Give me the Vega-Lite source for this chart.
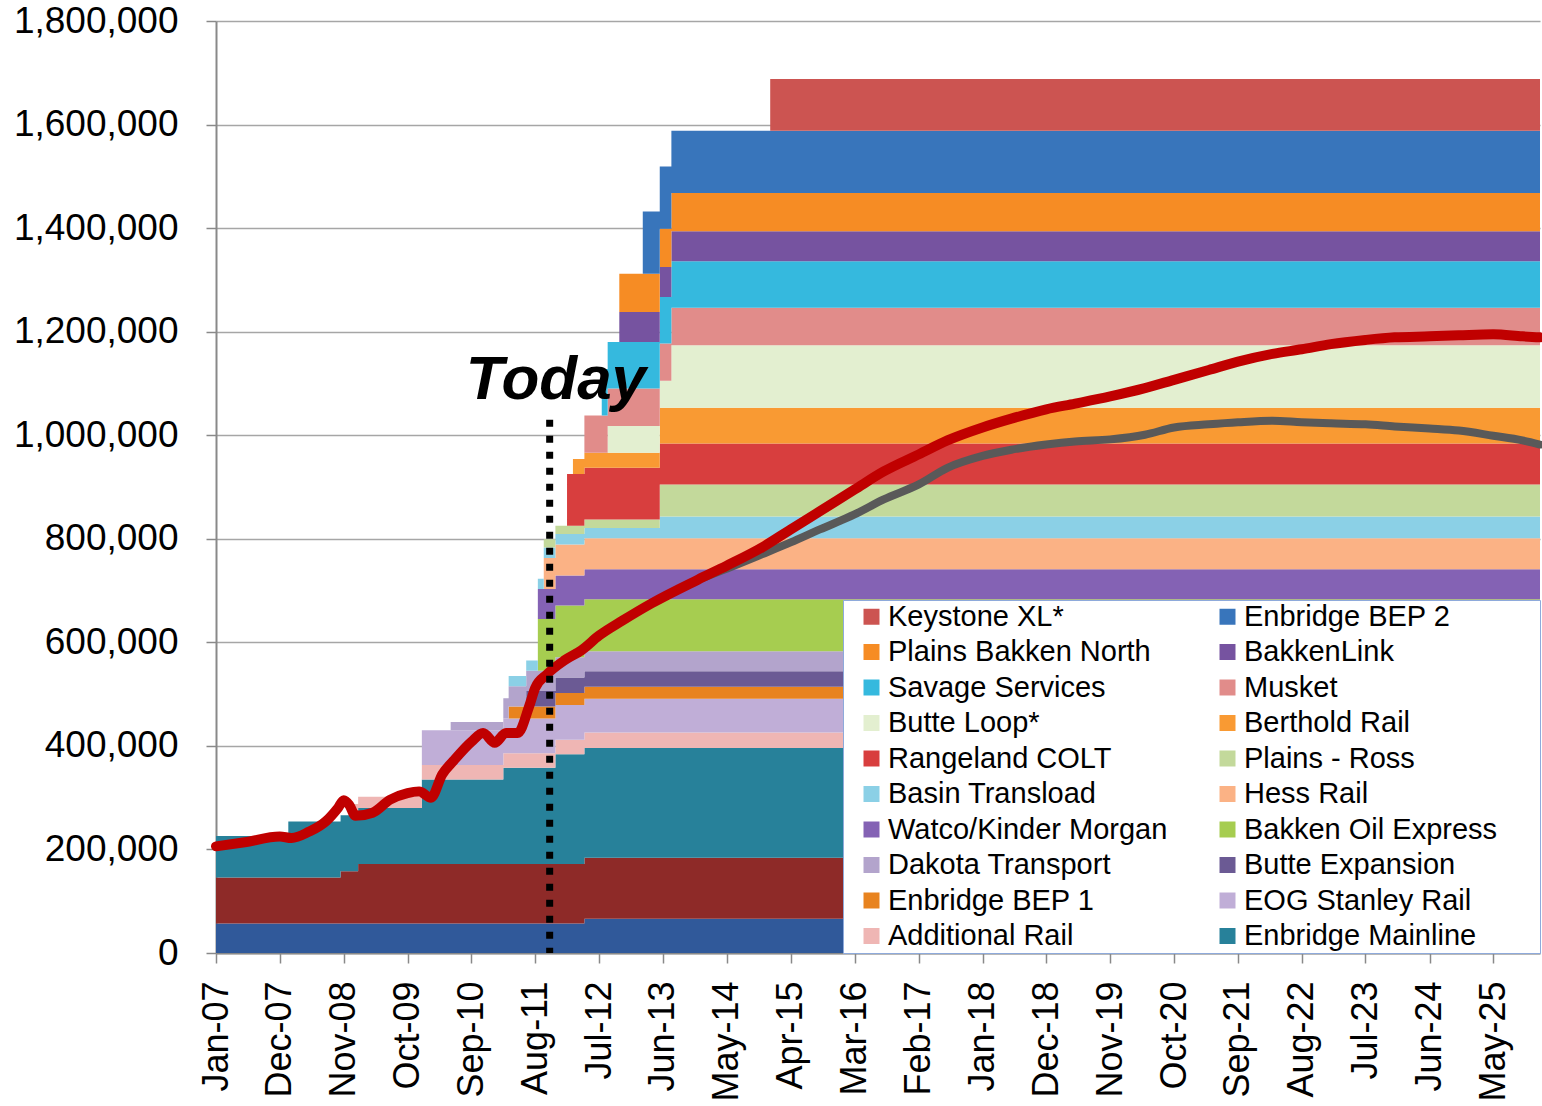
{
"$schema": "https://vega.github.io/schema/vega-lite/v6.json",
"width": 1324, "height": 932,
"autosize": {"type": "none"},
"padding": {"left": 216, "top": 21, "right": 2, "bottom": 153},
"background": "white",
"config": {"view": {"stroke": null}, "font": "Liberation Sans"},
"datasets": {
"series": [
{"s":"Local Refining","k":1},{"s":"Other Pipelines","k":2},{"s":"Enbridge Mainline","k":3},{"s":"Additional Rail","k":4},{"s":"EOG Stanley Rail","k":5},{"s":"Enbridge BEP 1","k":6},{"s":"Butte Expansion","k":7},{"s":"Dakota Transport","k":8},{"s":"Bakken Oil Express","k":9},{"s":"Watco/Kinder Morgan","k":10},{"s":"Hess Rail","k":11},{"s":"Basin Transload","k":12},{"s":"Plains - Ross","k":13},{"s":"Rangeland COLT","k":14},{"s":"Berthold Rail","k":15},{"s":"Butte Loop*","k":16},{"s":"Musket","k":17},{"s":"Savage Services","k":18},{"s":"BakkenLink","k":19},{"s":"Plains Bakken North","k":20},{"s":"Enbridge BEP 2","k":21},{"s":"Keystone XL*","k":22}
],
"capacity": [
{"d":"2007-01-01","s":"Local Refining","v":57000},{"d":"2008-01-15","s":"Local Refining","v":57000},{"d":"2008-10-15","s":"Local Refining","v":57000},{"d":"2008-12-15","s":"Local Refining","v":57000},{"d":"2009-01-15","s":"Local Refining","v":57000},{"d":"2009-12-15","s":"Local Refining","v":57000},{"d":"2010-05-15","s":"Local Refining","v":57000},{"d":"2011-02-15","s":"Local Refining","v":57000},{"d":"2011-03-15","s":"Local Refining","v":57000},{"d":"2011-06-15","s":"Local Refining","v":57000},{"d":"2011-08-15","s":"Local Refining","v":57000},{"d":"2011-09-15","s":"Local Refining","v":57000},{"d":"2011-11-15","s":"Local Refining","v":57000},{"d":"2012-01-15","s":"Local Refining","v":57000},{"d":"2012-02-15","s":"Local Refining","v":57000},{"d":"2012-04-15","s":"Local Refining","v":66000},{"d":"2012-07-15","s":"Local Refining","v":66000},{"d":"2012-08-15","s":"Local Refining","v":66000},{"d":"2012-10-15","s":"Local Refining","v":66000},{"d":"2013-02-15","s":"Local Refining","v":66000},{"d":"2013-05-15","s":"Local Refining","v":66000},{"d":"2013-07-15","s":"Local Refining","v":66000},{"d":"2014-12-15","s":"Local Refining","v":66000},{"d":"2026-01-01","s":"Local Refining","v":66000},
{"d":"2007-01-01","s":"Other Pipelines","v":89000},{"d":"2008-01-15","s":"Other Pipelines","v":89000},{"d":"2008-10-15","s":"Other Pipelines","v":101000},{"d":"2008-12-15","s":"Other Pipelines","v":101000},{"d":"2009-01-15","s":"Other Pipelines","v":115000},{"d":"2009-12-15","s":"Other Pipelines","v":115000},{"d":"2010-05-15","s":"Other Pipelines","v":115000},{"d":"2011-02-15","s":"Other Pipelines","v":115000},{"d":"2011-03-15","s":"Other Pipelines","v":115000},{"d":"2011-06-15","s":"Other Pipelines","v":115000},{"d":"2011-08-15","s":"Other Pipelines","v":115000},{"d":"2011-09-15","s":"Other Pipelines","v":115000},{"d":"2011-11-15","s":"Other Pipelines","v":115000},{"d":"2012-01-15","s":"Other Pipelines","v":115000},{"d":"2012-02-15","s":"Other Pipelines","v":115000},{"d":"2012-04-15","s":"Other Pipelines","v":118000},{"d":"2012-07-15","s":"Other Pipelines","v":118000},{"d":"2012-08-15","s":"Other Pipelines","v":118000},{"d":"2012-10-15","s":"Other Pipelines","v":118000},{"d":"2013-02-15","s":"Other Pipelines","v":118000},{"d":"2013-05-15","s":"Other Pipelines","v":118000},{"d":"2013-07-15","s":"Other Pipelines","v":118000},{"d":"2014-12-15","s":"Other Pipelines","v":118000},{"d":"2026-01-01","s":"Other Pipelines","v":118000},
{"d":"2007-01-01","s":"Enbridge Mainline","v":80000},{"d":"2008-01-15","s":"Enbridge Mainline","v":108000},{"d":"2008-10-15","s":"Enbridge Mainline","v":108000},{"d":"2008-12-15","s":"Enbridge Mainline","v":108000},{"d":"2009-01-15","s":"Enbridge Mainline","v":108000},{"d":"2009-12-15","s":"Enbridge Mainline","v":163000},{"d":"2010-05-15","s":"Enbridge Mainline","v":163000},{"d":"2011-02-15","s":"Enbridge Mainline","v":186000},{"d":"2011-03-15","s":"Enbridge Mainline","v":186000},{"d":"2011-06-15","s":"Enbridge Mainline","v":186000},{"d":"2011-08-15","s":"Enbridge Mainline","v":186000},{"d":"2011-09-15","s":"Enbridge Mainline","v":186000},{"d":"2011-11-15","s":"Enbridge Mainline","v":212000},{"d":"2012-01-15","s":"Enbridge Mainline","v":212000},{"d":"2012-02-15","s":"Enbridge Mainline","v":212000},{"d":"2012-04-15","s":"Enbridge Mainline","v":212000},{"d":"2012-07-15","s":"Enbridge Mainline","v":212000},{"d":"2012-08-15","s":"Enbridge Mainline","v":212000},{"d":"2012-10-15","s":"Enbridge Mainline","v":212000},{"d":"2013-02-15","s":"Enbridge Mainline","v":212000},{"d":"2013-05-15","s":"Enbridge Mainline","v":212000},{"d":"2013-07-15","s":"Enbridge Mainline","v":212000},{"d":"2014-12-15","s":"Enbridge Mainline","v":212000},{"d":"2026-01-01","s":"Enbridge Mainline","v":212000},
{"d":"2008-12-15","s":"Additional Rail","v":22000},{"d":"2009-01-15","s":"Additional Rail","v":22000},{"d":"2009-12-15","s":"Additional Rail","v":28000},{"d":"2010-05-15","s":"Additional Rail","v":28000},{"d":"2011-02-15","s":"Additional Rail","v":28000},{"d":"2011-03-15","s":"Additional Rail","v":28000},{"d":"2011-06-15","s":"Additional Rail","v":28000},{"d":"2011-08-15","s":"Additional Rail","v":28000},{"d":"2011-09-15","s":"Additional Rail","v":28000},{"d":"2011-11-15","s":"Additional Rail","v":28000},{"d":"2012-01-15","s":"Additional Rail","v":28000},{"d":"2012-02-15","s":"Additional Rail","v":28000},{"d":"2012-04-15","s":"Additional Rail","v":30000},{"d":"2012-07-15","s":"Additional Rail","v":30000},{"d":"2012-08-15","s":"Additional Rail","v":30000},{"d":"2012-10-15","s":"Additional Rail","v":30000},{"d":"2013-02-15","s":"Additional Rail","v":30000},{"d":"2013-05-15","s":"Additional Rail","v":30000},{"d":"2013-07-15","s":"Additional Rail","v":30000},{"d":"2014-12-15","s":"Additional Rail","v":30000},{"d":"2026-01-01","s":"Additional Rail","v":30000},
{"d":"2009-12-15","s":"EOG Stanley Rail","v":67000},{"d":"2010-05-15","s":"EOG Stanley Rail","v":67000},{"d":"2011-02-15","s":"EOG Stanley Rail","v":67000},{"d":"2011-03-15","s":"EOG Stanley Rail","v":67000},{"d":"2011-06-15","s":"EOG Stanley Rail","v":67000},{"d":"2011-08-15","s":"EOG Stanley Rail","v":67000},{"d":"2011-09-15","s":"EOG Stanley Rail","v":67000},{"d":"2011-11-15","s":"EOG Stanley Rail","v":67000},{"d":"2012-01-15","s":"EOG Stanley Rail","v":67000},{"d":"2012-02-15","s":"EOG Stanley Rail","v":67000},{"d":"2012-04-15","s":"EOG Stanley Rail","v":65000},{"d":"2012-07-15","s":"EOG Stanley Rail","v":65000},{"d":"2012-08-15","s":"EOG Stanley Rail","v":65000},{"d":"2012-10-15","s":"EOG Stanley Rail","v":65000},{"d":"2013-02-15","s":"EOG Stanley Rail","v":65000},{"d":"2013-05-15","s":"EOG Stanley Rail","v":65000},{"d":"2013-07-15","s":"EOG Stanley Rail","v":65000},{"d":"2014-12-15","s":"EOG Stanley Rail","v":65000},{"d":"2026-01-01","s":"EOG Stanley Rail","v":65000},
{"d":"2011-03-15","s":"Enbridge BEP 1","v":23000},{"d":"2011-06-15","s":"Enbridge BEP 1","v":23000},{"d":"2011-08-15","s":"Enbridge BEP 1","v":23000},{"d":"2011-09-15","s":"Enbridge BEP 1","v":23000},{"d":"2011-11-15","s":"Enbridge BEP 1","v":23000},{"d":"2012-01-15","s":"Enbridge BEP 1","v":23000},{"d":"2012-02-15","s":"Enbridge BEP 1","v":23000},{"d":"2012-04-15","s":"Enbridge BEP 1","v":23000},{"d":"2012-07-15","s":"Enbridge BEP 1","v":23000},{"d":"2012-08-15","s":"Enbridge BEP 1","v":23000},{"d":"2012-10-15","s":"Enbridge BEP 1","v":23000},{"d":"2013-02-15","s":"Enbridge BEP 1","v":23000},{"d":"2013-05-15","s":"Enbridge BEP 1","v":23000},{"d":"2013-07-15","s":"Enbridge BEP 1","v":23000},{"d":"2014-12-15","s":"Enbridge BEP 1","v":23000},{"d":"2026-01-01","s":"Enbridge BEP 1","v":23000},
{"d":"2011-06-15","s":"Butte Expansion","v":30000},{"d":"2011-08-15","s":"Butte Expansion","v":30000},{"d":"2011-09-15","s":"Butte Expansion","v":30000},{"d":"2011-11-15","s":"Butte Expansion","v":30000},{"d":"2012-01-15","s":"Butte Expansion","v":30000},{"d":"2012-02-15","s":"Butte Expansion","v":30000},{"d":"2012-04-15","s":"Butte Expansion","v":30000},{"d":"2012-07-15","s":"Butte Expansion","v":30000},{"d":"2012-08-15","s":"Butte Expansion","v":30000},{"d":"2012-10-15","s":"Butte Expansion","v":30000},{"d":"2013-02-15","s":"Butte Expansion","v":30000},{"d":"2013-05-15","s":"Butte Expansion","v":30000},{"d":"2013-07-15","s":"Butte Expansion","v":30000},{"d":"2014-12-15","s":"Butte Expansion","v":30000},{"d":"2026-01-01","s":"Butte Expansion","v":30000},
{"d":"2010-05-15","s":"Dakota Transport","v":16000},{"d":"2011-02-15","s":"Dakota Transport","v":39000},{"d":"2011-03-15","s":"Dakota Transport","v":39000},{"d":"2011-06-15","s":"Dakota Transport","v":39000},{"d":"2011-08-15","s":"Dakota Transport","v":39000},{"d":"2011-09-15","s":"Dakota Transport","v":39000},{"d":"2011-11-15","s":"Dakota Transport","v":39000},{"d":"2012-01-15","s":"Dakota Transport","v":39000},{"d":"2012-02-15","s":"Dakota Transport","v":39000},{"d":"2012-04-15","s":"Dakota Transport","v":39000},{"d":"2012-07-15","s":"Dakota Transport","v":39000},{"d":"2012-08-15","s":"Dakota Transport","v":39000},{"d":"2012-10-15","s":"Dakota Transport","v":39000},{"d":"2013-02-15","s":"Dakota Transport","v":39000},{"d":"2013-05-15","s":"Dakota Transport","v":39000},{"d":"2013-07-15","s":"Dakota Transport","v":39000},{"d":"2014-12-15","s":"Dakota Transport","v":39000},{"d":"2026-01-01","s":"Dakota Transport","v":39000},
{"d":"2011-08-15","s":"Bakken Oil Express","v":100000},{"d":"2011-09-15","s":"Bakken Oil Express","v":100000},{"d":"2011-11-15","s":"Bakken Oil Express","v":100000},{"d":"2012-01-15","s":"Bakken Oil Express","v":100000},{"d":"2012-02-15","s":"Bakken Oil Express","v":100000},{"d":"2012-04-15","s":"Bakken Oil Express","v":100000},{"d":"2012-07-15","s":"Bakken Oil Express","v":100000},{"d":"2012-08-15","s":"Bakken Oil Express","v":100000},{"d":"2012-10-15","s":"Bakken Oil Express","v":100000},{"d":"2013-02-15","s":"Bakken Oil Express","v":100000},{"d":"2013-05-15","s":"Bakken Oil Express","v":100000},{"d":"2013-07-15","s":"Bakken Oil Express","v":100000},{"d":"2014-12-15","s":"Bakken Oil Express","v":100000},{"d":"2026-01-01","s":"Bakken Oil Express","v":100000},
{"d":"2011-08-15","s":"Watco/Kinder Morgan","v":58000},{"d":"2011-09-15","s":"Watco/Kinder Morgan","v":58000},{"d":"2011-11-15","s":"Watco/Kinder Morgan","v":58000},{"d":"2012-01-15","s":"Watco/Kinder Morgan","v":58000},{"d":"2012-02-15","s":"Watco/Kinder Morgan","v":58000},{"d":"2012-04-15","s":"Watco/Kinder Morgan","v":58000},{"d":"2012-07-15","s":"Watco/Kinder Morgan","v":58000},{"d":"2012-08-15","s":"Watco/Kinder Morgan","v":58000},{"d":"2012-10-15","s":"Watco/Kinder Morgan","v":58000},{"d":"2013-02-15","s":"Watco/Kinder Morgan","v":58000},{"d":"2013-05-15","s":"Watco/Kinder Morgan","v":58000},{"d":"2013-07-15","s":"Watco/Kinder Morgan","v":58000},{"d":"2014-12-15","s":"Watco/Kinder Morgan","v":58000},{"d":"2026-01-01","s":"Watco/Kinder Morgan","v":58000},
{"d":"2011-09-15","s":"Hess Rail","v":60000},{"d":"2011-11-15","s":"Hess Rail","v":60000},{"d":"2012-01-15","s":"Hess Rail","v":60000},{"d":"2012-02-15","s":"Hess Rail","v":60000},{"d":"2012-04-15","s":"Hess Rail","v":60000},{"d":"2012-07-15","s":"Hess Rail","v":60000},{"d":"2012-08-15","s":"Hess Rail","v":60000},{"d":"2012-10-15","s":"Hess Rail","v":60000},{"d":"2013-02-15","s":"Hess Rail","v":60000},{"d":"2013-05-15","s":"Hess Rail","v":60000},{"d":"2013-07-15","s":"Hess Rail","v":60000},{"d":"2014-12-15","s":"Hess Rail","v":60000},{"d":"2026-01-01","s":"Hess Rail","v":60000},
{"d":"2011-03-15","s":"Basin Transload","v":20000},{"d":"2011-06-15","s":"Basin Transload","v":20000},{"d":"2011-08-15","s":"Basin Transload","v":20000},{"d":"2011-09-15","s":"Basin Transload","v":20000},{"d":"2011-11-15","s":"Basin Transload","v":20000},{"d":"2012-01-15","s":"Basin Transload","v":20000},{"d":"2012-02-15","s":"Basin Transload","v":20000},{"d":"2012-04-15","s":"Basin Transload","v":20000},{"d":"2012-07-15","s":"Basin Transload","v":20000},{"d":"2012-08-15","s":"Basin Transload","v":20000},{"d":"2012-10-15","s":"Basin Transload","v":20000},{"d":"2013-02-15","s":"Basin Transload","v":20000},{"d":"2013-05-15","s":"Basin Transload","v":42000},{"d":"2013-07-15","s":"Basin Transload","v":42000},{"d":"2014-12-15","s":"Basin Transload","v":42000},{"d":"2026-01-01","s":"Basin Transload","v":42000},
{"d":"2011-09-15","s":"Plains - Ross","v":16000},{"d":"2011-11-15","s":"Plains - Ross","v":16000},{"d":"2012-01-15","s":"Plains - Ross","v":16000},{"d":"2012-02-15","s":"Plains - Ross","v":16000},{"d":"2012-04-15","s":"Plains - Ross","v":16000},{"d":"2012-07-15","s":"Plains - Ross","v":16000},{"d":"2012-08-15","s":"Plains - Ross","v":16000},{"d":"2012-10-15","s":"Plains - Ross","v":16000},{"d":"2013-02-15","s":"Plains - Ross","v":16000},{"d":"2013-05-15","s":"Plains - Ross","v":62000},{"d":"2013-07-15","s":"Plains - Ross","v":62000},{"d":"2014-12-15","s":"Plains - Ross","v":62000},{"d":"2026-01-01","s":"Plains - Ross","v":62000},
{"d":"2012-01-15","s":"Rangeland COLT","v":100000},{"d":"2012-02-15","s":"Rangeland COLT","v":100000},{"d":"2012-04-15","s":"Rangeland COLT","v":100000},{"d":"2012-07-15","s":"Rangeland COLT","v":100000},{"d":"2012-08-15","s":"Rangeland COLT","v":100000},{"d":"2012-10-15","s":"Rangeland COLT","v":100000},{"d":"2013-02-15","s":"Rangeland COLT","v":100000},{"d":"2013-05-15","s":"Rangeland COLT","v":79000},{"d":"2013-07-15","s":"Rangeland COLT","v":79000},{"d":"2014-12-15","s":"Rangeland COLT","v":79000},{"d":"2026-01-01","s":"Rangeland COLT","v":79000},
{"d":"2012-02-15","s":"Berthold Rail","v":29000},{"d":"2012-04-15","s":"Berthold Rail","v":29000},{"d":"2012-07-15","s":"Berthold Rail","v":29000},{"d":"2012-08-15","s":"Berthold Rail","v":29000},{"d":"2012-10-15","s":"Berthold Rail","v":29000},{"d":"2013-02-15","s":"Berthold Rail","v":29000},{"d":"2013-05-15","s":"Berthold Rail","v":69000},{"d":"2013-07-15","s":"Berthold Rail","v":69000},{"d":"2014-12-15","s":"Berthold Rail","v":69000},{"d":"2026-01-01","s":"Berthold Rail","v":69000},
{"d":"2012-08-15","s":"Butte Loop*","v":52000},{"d":"2012-10-15","s":"Butte Loop*","v":52000},{"d":"2013-02-15","s":"Butte Loop*","v":52000},{"d":"2013-05-15","s":"Butte Loop*","v":52000},{"d":"2013-07-15","s":"Butte Loop*","v":121000},{"d":"2014-12-15","s":"Butte Loop*","v":121000},{"d":"2026-01-01","s":"Butte Loop*","v":121000},
{"d":"2012-04-15","s":"Musket","v":72000},{"d":"2012-07-15","s":"Musket","v":72000},{"d":"2012-08-15","s":"Musket","v":72000},{"d":"2012-10-15","s":"Musket","v":72000},{"d":"2013-02-15","s":"Musket","v":72000},{"d":"2013-05-15","s":"Musket","v":72000},{"d":"2013-07-15","s":"Musket","v":72000},{"d":"2014-12-15","s":"Musket","v":72000},{"d":"2026-01-01","s":"Musket","v":72000},
{"d":"2012-07-15","s":"Savage Services","v":90000},{"d":"2012-08-15","s":"Savage Services","v":90000},{"d":"2012-10-15","s":"Savage Services","v":90000},{"d":"2013-02-15","s":"Savage Services","v":90000},{"d":"2013-05-15","s":"Savage Services","v":90000},{"d":"2013-07-15","s":"Savage Services","v":90000},{"d":"2014-12-15","s":"Savage Services","v":90000},{"d":"2026-01-01","s":"Savage Services","v":90000},
{"d":"2012-10-15","s":"BakkenLink","v":58000},{"d":"2013-02-15","s":"BakkenLink","v":58000},{"d":"2013-05-15","s":"BakkenLink","v":58000},{"d":"2013-07-15","s":"BakkenLink","v":58000},{"d":"2014-12-15","s":"BakkenLink","v":58000},{"d":"2026-01-01","s":"BakkenLink","v":58000},
{"d":"2012-10-15","s":"Plains Bakken North","v":74000},{"d":"2013-02-15","s":"Plains Bakken North","v":74000},{"d":"2013-05-15","s":"Plains Bakken North","v":74000},{"d":"2013-07-15","s":"Plains Bakken North","v":74000},{"d":"2014-12-15","s":"Plains Bakken North","v":74000},{"d":"2026-01-01","s":"Plains Bakken North","v":74000},
{"d":"2013-02-15","s":"Enbridge BEP 2","v":120000},{"d":"2013-05-15","s":"Enbridge BEP 2","v":120000},{"d":"2013-07-15","s":"Enbridge BEP 2","v":120000},{"d":"2014-12-15","s":"Enbridge BEP 2","v":120000},{"d":"2026-01-01","s":"Enbridge BEP 2","v":120000},
{"d":"2014-12-15","s":"Keystone XL*","v":100000},{"d":"2026-01-01","s":"Keystone XL*","v":100000}
],
"prodHigh": [
{"d":"2007-01-01","v":206000},{"d":"2007-06-01","v":214000},{"d":"2007-12-01","v":225000},{"d":"2008-02-01","v":222000},{"d":"2008-05-01","v":234000},{"d":"2008-08-01","v":255000},{"d":"2008-10-01","v":280000},{"d":"2008-11-01","v":295000},{"d":"2008-12-01","v":285000},{"d":"2009-01-01","v":265000},{"d":"2009-04-01","v":271000},{"d":"2009-07-01","v":296000},{"d":"2009-10-01","v":309000},{"d":"2009-12-01","v":312000},{"d":"2010-02-01","v":300000},{"d":"2010-04-01","v":345000},{"d":"2010-06-01","v":372000},{"d":"2010-09-01","v":408000},{"d":"2010-11-01","v":425000},{"d":"2011-01-01","v":406000},{"d":"2011-03-01","v":425000},{"d":"2011-05-01","v":425000},{"d":"2011-07-01","v":477000},{"d":"2011-08-01","v":512000},{"d":"2011-10-01","v":538000},{"d":"2012-01-01","v":565000},{"d":"2012-04-01","v":585000},{"d":"2012-07-01","v":613000},{"d":"2012-11-01","v":642000},{"d":"2013-04-01","v":675000},{"d":"2013-12-01","v":721000},{"d":"2014-05-01","v":748000},{"d":"2014-11-01","v":783000},{"d":"2015-04-01","v":818000},{"d":"2015-09-01","v":853000},{"d":"2016-03-01","v":895000},{"d":"2016-08-01","v":930000},{"d":"2017-02-01","v":963000},{"d":"2017-07-01","v":990000},{"d":"2018-01-01","v":1015000},{"d":"2018-06-01","v":1032000},{"d":"2018-12-01","v":1050000},{"d":"2019-05-01","v":1061000},{"d":"2019-11-01","v":1075000},{"d":"2020-05-01","v":1091000},{"d":"2020-10-01","v":1107000},{"d":"2021-04-01","v":1126000},{"d":"2021-09-01","v":1142000},{"d":"2022-03-01","v":1157000},{"d":"2022-08-01","v":1166000},{"d":"2023-01-01","v":1176000},{"d":"2023-07-01","v":1184000},{"d":"2023-12-01","v":1189000},{"d":"2024-06-01","v":1191000},{"d":"2024-11-01","v":1193000},{"d":"2025-05-01","v":1195000},{"d":"2025-10-01","v":1191000},{"d":"2026-01-01","v":1189000}
],
"prodLow": [
{"d":"2013-12-01","v":721000},{"d":"2014-04-01","v":738000},{"d":"2014-11-01","v":770000},{"d":"2015-04-01","v":793000},{"d":"2015-09-01","v":818000},{"d":"2016-03-01","v":847000},{"d":"2016-08-01","v":876000},{"d":"2017-02-01","v":905000},{"d":"2017-07-01","v":937000},{"d":"2018-01-01","v":960000},{"d":"2018-06-01","v":972000},{"d":"2018-12-01","v":982000},{"d":"2019-05-01","v":988000},{"d":"2019-11-01","v":992000},{"d":"2020-05-01","v":1001000},{"d":"2020-10-01","v":1015000},{"d":"2021-04-01","v":1021000},{"d":"2021-09-01","v":1025000},{"d":"2022-03-01","v":1028000},{"d":"2022-08-01","v":1025000},{"d":"2023-01-01","v":1023000},{"d":"2023-07-01","v":1021000},{"d":"2023-12-01","v":1017000},{"d":"2024-06-01","v":1013000},{"d":"2024-11-01","v":1009000},{"d":"2025-05-01","v":999000},{"d":"2025-10-01","v":990000},{"d":"2026-01-01","v":982000}
]
},
"encoding": {
"x": {"field": "d", "type": "temporal",
 "scale": {"type": "utc", "domain": [{"year":2007,"month":1,"date":1,"utc":true},{"year":2026,"month":1,"date":1,"utc":true}]},
 "axis": {"title": null, "format": "%b-%y", "labelAngle": -90, "labelAlign": "right", "labelBaseline": "middle", "labelFont": "Liberation Sans", "labelFontSize": 36, "labelColor": "#000000", "labelPadding": 18, "tickSize": 10, "tickColor": "#898989", "tickWidth": 1.5, "domainColor": "#898989", "domainWidth": 2, "grid": false, "labelFlush": false, "labelOverlap": false, "labelBound": false,
  "values": [{"year":2007,"month":1,"date":1,"utc":true},{"year":2007,"month":12,"date":1,"utc":true},{"year":2008,"month":11,"date":1,"utc":true},{"year":2009,"month":10,"date":1,"utc":true},{"year":2010,"month":9,"date":1,"utc":true},{"year":2011,"month":8,"date":1,"utc":true},{"year":2012,"month":7,"date":1,"utc":true},{"year":2013,"month":6,"date":1,"utc":true},{"year":2014,"month":5,"date":1,"utc":true},{"year":2015,"month":4,"date":1,"utc":true},{"year":2016,"month":3,"date":1,"utc":true},{"year":2017,"month":2,"date":1,"utc":true},{"year":2018,"month":1,"date":1,"utc":true},{"year":2018,"month":12,"date":1,"utc":true},{"year":2019,"month":11,"date":1,"utc":true},{"year":2020,"month":10,"date":1,"utc":true},{"year":2021,"month":9,"date":1,"utc":true},{"year":2022,"month":8,"date":1,"utc":true},{"year":2023,"month":7,"date":1,"utc":true},{"year":2024,"month":6,"date":1,"utc":true},{"year":2025,"month":5,"date":1,"utc":true}]}},
"y": {"field": "v", "type": "quantitative",
 "scale": {"domain": [0, 1800000], "nice": false},
 "axis": {"title": null, "values": [0,200000,400000,600000,800000,1000000,1200000,1400000,1600000,1800000], "format": ",d", "labelFont": "Liberation Sans", "labelFontSize": 37, "labelColor": "#000000", "labelPadding": 28, "tickSize": 10, "tickColor": "#898989", "tickWidth": 1.5, "domainColor": "#898989", "domainWidth": 2, "grid": true, "gridColor": "#a6a6a6", "gridWidth": 1.5, "labelFlush": false}}
},
"layer": [
{
 "data": {"name": "capacity"},
 "transform": [{"lookup": "s", "from": {"data": {"name": "series"}, "key": "s", "fields": ["k"]}}],
 "mark": {"type": "area", "interpolate": "step-after"},
 "encoding": {
  "color": {"field": "s", "type": "nominal",
   "scale": {"domain": ["Keystone XL*","Enbridge BEP 2","Plains Bakken North","BakkenLink","Savage Services","Musket","Butte Loop*","Berthold Rail","Rangeland COLT","Plains - Ross","Basin Transload","Hess Rail","Watco/Kinder Morgan","Bakken Oil Express","Dakota Transport","Butte Expansion","Enbridge BEP 1","EOG Stanley Rail","Additional Rail","Enbridge Mainline","Other Pipelines","Local Refining"],
    "range": ["#cc5451","#3875bb","#f68c24","#7653a0","#35b9de","#e18c8a","#e3efd0","#f99a33","#d83e3e","#c3d99b","#8bd0e6","#fbb285","#8462b4","#a6cd50","#b3a4cc","#6b5a94","#e8831f","#c0aed7","#efb6b4","#27819a","#8e2a28","#30599a"]},
   "legend": {"orient": "none", "legendX": 627, "legendY": 579, "columns": 2, "direction": "vertical", "gridAlign": "all",
    "title": " ", "titleOrient": "right", "titlePadding": 41, "titleFontSize": 4,
    "values": ["Keystone XL*","Plains Bakken North","Savage Services","Butte Loop*","Rangeland COLT","Basin Transload","Watco/Kinder Morgan","Dakota Transport","Enbridge BEP 1","Additional Rail","Enbridge BEP 2","BakkenLink","Musket","Berthold Rail","Plains - Ross","Hess Rail","Bakken Oil Express","Butte Expansion","EOG Stanley Rail","Enbridge Mainline"],
    "symbolType": "square", "symbolSize": 256, "symbolStrokeWidth": 0, "symbolOffset": 12,
    "labelFont": "Liberation Sans", "labelFontSize": 29, "labelColor": "#000000", "labelLimit": 0, "labelOffset": 2,
    "rowPadding": 5.5, "columnPadding": 33, "padding": 2, "fillColor": "#ffffff", "strokeColor": "#8eaadb", "zindex": 1}},
  "detail": {"field": "k", "type": "quantitative"},
  "order": {"field": "k", "type": "quantitative", "sort": "ascending"}
 }
},
{
 "data": {"name": "prodLow"},
 "mark": {"type": "line", "color": "#595959", "strokeWidth": 8, "interpolate": "monotone", "strokeCap": "round", "strokeJoin": "round"}
},
{
 "data": {"name": "prodHigh"},
 "mark": {"type": "line", "color": "#c00000", "strokeWidth": 10, "interpolate": "monotone", "strokeCap": "round", "strokeJoin": "round"}
},
{
 "data": {"values": [{"d": "2011-10-16", "v": 1030000}]},
 "mark": {"type": "rule", "color": "#000000", "strokeWidth": 7, "strokeDash": [7, 9], "strokeCap": "butt"},
 "encoding": {"y2": {"datum": 0}}
},
{
 "data": {"values": [{"d": "2011-11-18", "v": 1069000, "label": "Today"}]},
 "mark": {"type": "text", "align": "center", "baseline": "alphabetic", "font": "Liberation Sans", "fontSize": 62, "fontWeight": "bold", "fontStyle": "italic", "color": "#000000"},
 "encoding": {"text": {"field": "label"}}
}
]
}
